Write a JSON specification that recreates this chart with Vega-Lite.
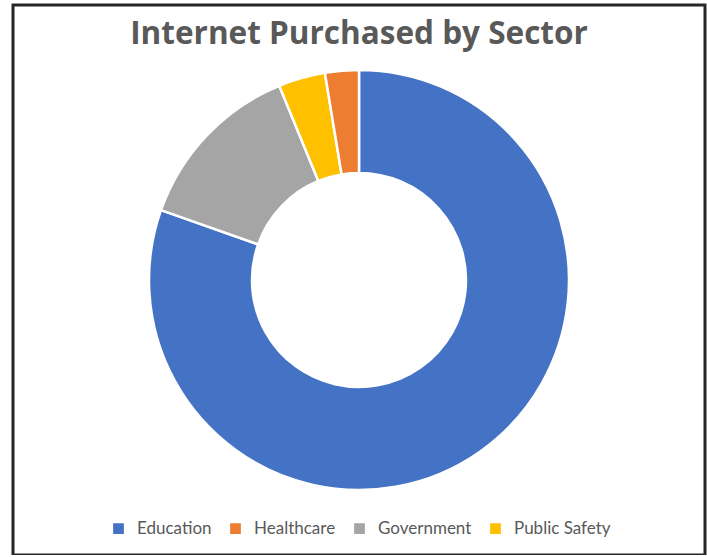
{
  "$schema": "https://vega.github.io/schema/vega-lite/v6.json",
  "autosize": "none",
  "width": 692,
  "height": 550,
  "padding": {"left": 13, "top": 5, "right": 2, "bottom": 0},
  "background": "white",
  "title": {
    "text": "Internet Purchased by Sector",
    "anchor": "middle",
    "orient": "top",
    "offset": -47,
    "font": "Open Sans",
    "fontSize": 31.5,
    "fontWeight": "bold",
    "color": "#595959"
  },
  "layer": [
    {
      "data": {"values": [{"frame": "border"}]},
      "mark": {"type": "rect", "fill": "white", "fillOpacity": 0, "stroke": "#262626", "strokeWidth": 3},
      "encoding": {}
    },
    {
      "data": {
        "values": [
          {"sector": "Education", "value": 80.4, "ord": 1},
          {"sector": "Government", "value": 13.4, "ord": 2},
          {"sector": "Public Safety", "value": 3.6, "ord": 3},
          {"sector": "Healthcare", "value": 2.6, "ord": 4}
        ]
      },
      "mark": {"type": "arc", "innerRadius": 107, "outerRadius": 210, "stroke": "white", "strokeWidth": 2.5},
      "encoding": {
        "theta": {"field": "value", "type": "quantitative", "stack": true},
        "order": {"field": "ord", "type": "quantitative"},
        "color": {
          "field": "sector",
          "type": "nominal",
          "scale": {
            "domain": ["Education", "Healthcare", "Government", "Public Safety"],
            "range": ["#4472C4", "#ED7D31", "#A5A5A5", "#FFC000"]
          },
          "legend": {
            "title": null,
            "orient": "none",
            "legendX": 97,
            "legendY": 515,
            "direction": "horizontal",
            "symbolType": "square",
            "symbolSize": 150,
            "labelFont": "Lato",
            "labelFontSize": 17,
            "labelColor": "#595959",
            "columnPadding": 14,
            "labelOffset": 10
          }
        }
      }
    }
  ]
}
